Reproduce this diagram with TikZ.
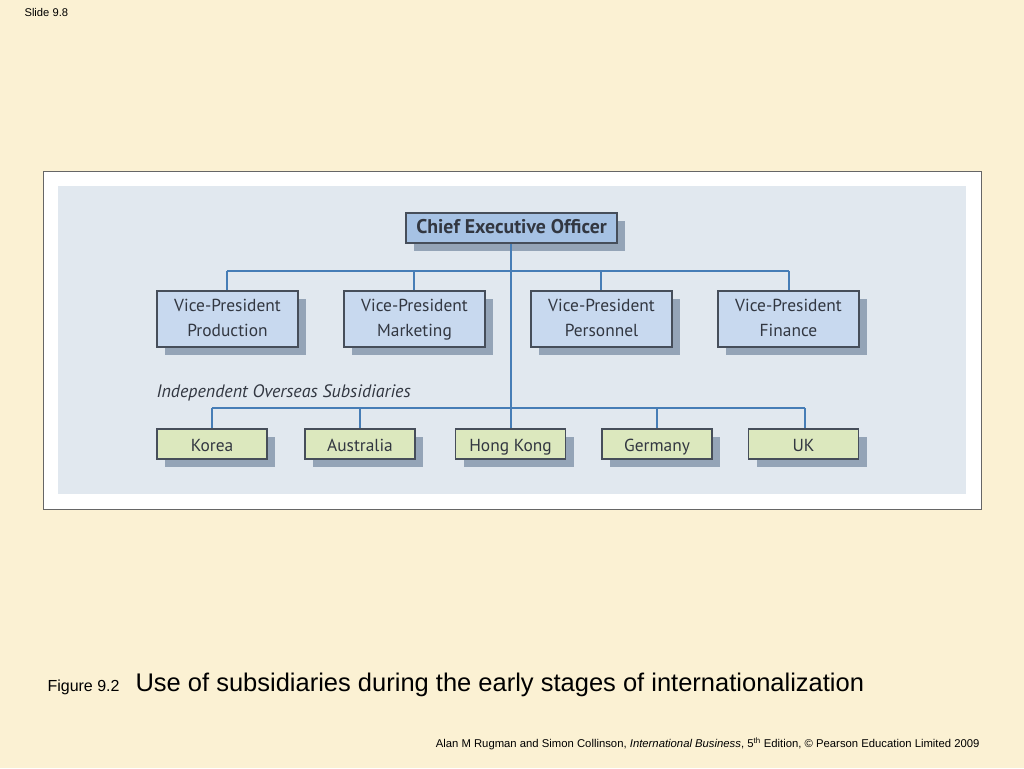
\documentclass[tikz,border=0pt]{standalone}
\usepackage{fontspec}
\setmainfont{Liberation Sans}
\newfontfamily\diag{PT Sans}
\definecolor{cream}{RGB}{251,241,211}
\definecolor{panel}{RGB}{225,232,239}
\definecolor{ceo}{RGB}{166,194,228}
\definecolor{vp}{RGB}{200,217,239}
\definecolor{sub}{RGB}{220,232,190}
\definecolor{shadowc}{RGB}{148,164,183}
\definecolor{wire}{RGB}{70,125,182}
\definecolor{edge}{RGB}{70,78,90}
\definecolor{txt}{RGB}{50,55,65}
\newcommand{\vpstrut}{\rule[-5pt]{0pt}{20pt}}
\tikzset{
  box/.style={draw=edge,line width=1.2pt,inner sep=0pt,text=txt,font=\diag,align=center},
  ceobox/.style={box,fill=ceo,minimum width=211pt,minimum height=30pt,text height=14pt,text depth=3pt,font=\diag\bfseries\fontsize{19.8}{21}\selectfont},
  vpbox/.style={box,fill=vp,minimum width=141pt,minimum height=56pt,font=\diag\fontsize{17.4}{25}\selectfont},
  subbox/.style={box,fill=sub,minimum width=110pt,minimum height=30pt,text height=14pt,text depth=0pt,font=\diag\fontsize{17.4}{21}\selectfont},
  wireline/.style={draw=wire,line width=2.8pt},
}
\newcommand{\shadowbox}[4]{\fill[shadowc] (#1+8,#2+8) rectangle (#3+8,#4+8);}
\begin{document}
\begin{tikzpicture}[x=1pt,y=-1pt]
\useasboundingbox (0,0) rectangle (1024,768);
\fill[cream] (0,0) rectangle (1024,768);
\node[anchor=west,font=\fontsize{11.2}{12}\selectfont] (slide) at (21,12) {Slide 9.8};
% frame
\draw[fill=white,draw=gray!80!black,line width=1pt] (43,171) rectangle (981,509);
\fill[panel] (58,186) rectangle (966,494);
% shadows
\shadowbox{406}{213}{617}{243}
\foreach \x in {157,344,531,718}{\shadowbox{\x}{291}{\x+141}{347}}
\foreach \x in {157,305,456,602,749}{\shadowbox{\x}{429}{\x+110}{459}}
% wires
\coordinate (top) at (511,271);
\coordinate (bot) at (511,408);
\draw[wireline] (227,271) -- (789,271);
\draw[wireline] (212,408) -- (805,408);
\draw[wireline] (511,243) -- (bot);
\foreach \x in {227,414,601,789}{\draw[wireline] (\x,271) -- (\x,291);}
\foreach \x in {212,360,511,657,805}{\draw[wireline] (\x,408) -- (\x,429);}
% nodes
\node[ceobox] (ceo) at (511.5,228) {Chief Executive Officer};
\node[vpbox] (vp1) at (227.5,319) {Vice-President\vpstrut\\Production\vpstrut};
\node[vpbox] (vp2) at (414.5,319) {Vice-President\vpstrut\\Marketing\vpstrut};
\node[vpbox] (vp3) at (601.5,319) {Vice-President\vpstrut\\Personnel\vpstrut};
\node[vpbox] (vp4) at (788.5,319) {Vice-President\vpstrut\\Finance\vpstrut};
\node[anchor=west,text=txt,font=\diag\itshape\fontsize{18}{21}\selectfont] (ios) at (153,393) {Independent Overseas Subsidiaries};
\node[subbox] (s1) at (212,444) {Korea};
\node[subbox] (s2) at (360,444) {Australia};
\node[subbox] (s3) at (510.5,444) {Hong Kong};
\node[subbox] (s4) at (657,444) {Germany};
\node[subbox] (s5) at (803.5,444) {UK};
% captions
\node[anchor=base west,font=\fontsize{16}{18}\selectfont] (fig) at (44,691) {Figure 9.2};
\node[anchor=base west,font=\fontsize{25.5}{28}\selectfont] (cap) at (132,691) {Use of subsidiaries during the early stages of internationalization};
\node[anchor=base east,font=\fontsize{11.3}{13}\selectfont] (foot) at (983,747) {Alan M Rugman and Simon Collinson, \textit{International Business}, 5\textsuperscript{th} Edition, \textcopyright{} Pearson Education Limited 2009};
\end{tikzpicture}
\end{document}
